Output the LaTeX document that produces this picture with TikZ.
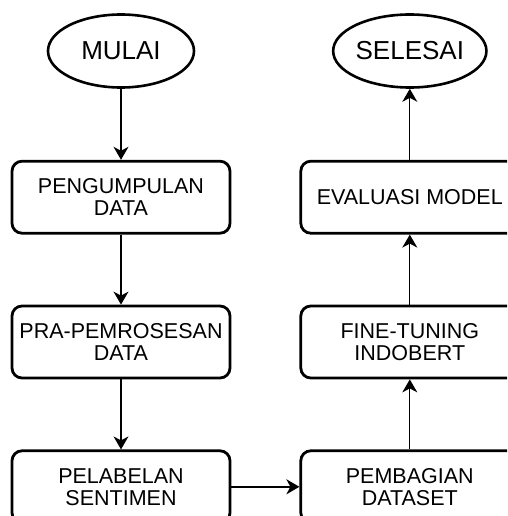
\documentclass[tikz,border=0pt]{standalone}
\usepackage{fontspec}
\setmainfont{Liberation Sans}
\usetikzlibrary{shapes,arrows.meta,positioning}
\tikzstyle{proc}=[rectangle,draw,rounded corners=10pt,line width=2.8pt,align=center,minimum width=218pt,minimum height=72pt,inner sep=0pt,font=\fontsize{21.5}{22}\selectfont]
\tikzstyle{term}=[ellipse,draw,line width=2.6pt,minimum width=146pt,minimum height=73pt,inner sep=0pt,font=\fontsize{26}{28}\selectfont]
\tikzstyle{arr}=[-{Stealth[length=13pt,width=15pt,inset=4pt]},line width=1.2pt]

\begin{document}
\begin{tikzpicture}[x=1pt,y=-1pt,node distance=70pt]
\clip (0,0) rectangle (507,516);
\node[term] (A) at (121,51) {MULAI};
\node[proc, below=71pt of A] (B) {PENGUMPULAN\\DATA};
\node[proc, below=of B] (C) {PRA-PEMROSESAN\\DATA};
\node[proc, below=of C] (D) {PELABELAN\\SENTIMEN};
\node[proc, right=68pt of D] (E) {PEMBAGIAN\\DATASET};
\node[proc, above=of E] (F) {FINE-TUNING\\INDOBERT};
\node[proc, above=of F] (G) {EVALUASI MODEL};
\node[term, above=71pt of G] (H) {SELESAI};
\draw[arr] (A) -- (B);
\draw[arr] (B) -- (C);
\draw[arr] (C) -- (D);
\draw[arr,line width=2pt] (D) -- (E);
\draw[arr] (E) -- (F);
\draw[arr] (F) -- (G);
\draw[arr] (G) -- (H);
\end{tikzpicture}
\end{document}
